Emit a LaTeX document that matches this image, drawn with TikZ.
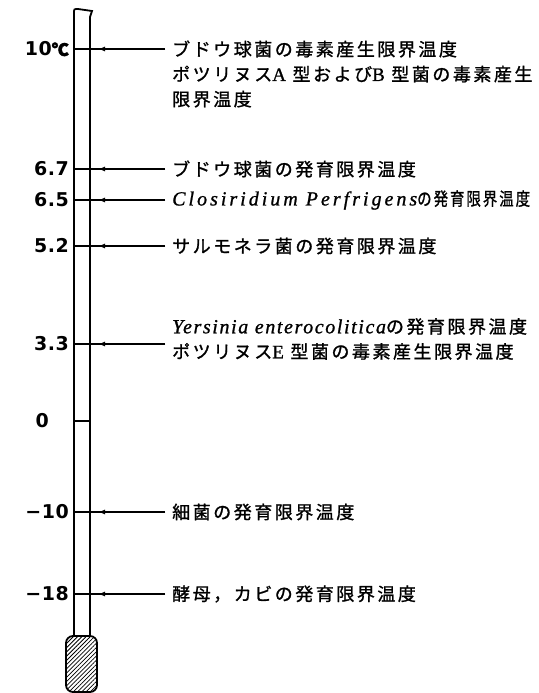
\documentclass[tikz,border=0pt]{standalone}
\usepackage{fontspec}
\usepackage{graphicx}
\usetikzlibrary{arrows.meta,patterns.meta}
\newfontfamily\jp[LetterSpace=14,FakeBold=1.2]{Noto Sans CJK JP}
\newfontfamily\jpb[FakeBold=2.5]{Noto Sans CJK JP}
\newfontfamily\lt[LetterSpace=8,FakeBold=1]{Liberation Serif}
\newfontfamily\ltw[LetterSpace=15,FakeBold=1]{Liberation Serif}
\newfontfamily\lab[LetterSpace=3]{DejaVu Sans}
\newcommand{\spn}[1]{{\fontsize{20}{25}\lt\itshape #1}}
\newcommand{\spw}[1]{{\fontsize{20}{25}\ltw\itshape #1}}
\newcommand{\lta}[1]{{\fontsize{19}{25}\lt #1}}
\begin{document}
\begin{tikzpicture}[x=1pt,y=-1pt,
  txt/.style={anchor=west,inner sep=0pt,font=\fontsize{18}{25}\jp,align=left},
  lbl/.style={anchor=east,inner sep=0pt,font=\fontsize{19}{20}\lab\bfseries},
  tickline/.style={line width=1.3pt},
  conn/.style={line width=1.3pt,-{Latex[length=7pt,width=5pt]},shorten >=8pt},
  tube/.style={line width=1.8pt}]
\useasboundingbox (0,0) rectangle (538,693);
% tube
\draw[tube] (74,636) -- (74,13) .. controls (74,9) .. (78,9) -- (92,11) -- (90,17) -- (90,636);
% bulb
\draw[line width=1.8pt,rounded corners=7pt,pattern={Lines[angle=45,distance=3pt,line width=0.8pt]}] (66,636) rectangle (97,692);
% levels
\foreach \n/\y in {a/49,b/169,c/200,d/246,e/344,f/421,g/512,h/594}{
  \coordinate (l\n) at (74,\y);
  \coordinate (r\n) at (90,\y);
  \draw[tickline] (l\n) -- (r\n);
}
% labels
\node[lbl] (La) at (69,49) {10{\fontsize{17}{20}\jpb ℃}};
\node[lbl] (Lb) at (69,169) {6.7};
\node[lbl] (Lc) at (69,200) {6.5};
\node[lbl] (Ld) at (69,246) {5.2};
\node[lbl] (Le) at (69,344) {3.3};
\node[lbl] (Lf) at (49,421) {0};
\node[lbl] (Lg) at (69,512) {−10};
\node[lbl] (Lh) at (69,594) {−18};
% texts
\node[txt] (ta) at (172,74) {ブドウ球菌の毒素産生限界温度\\ポツリヌス\lta{A} 型および\lta{B} 型菌の毒素産生\\限界温度};
\node[txt] (tb) at (172,169) {ブドウ球菌の発育限界温度};
\node[txt] (tc) at (172,200) {\spw{Closiridium Perfrigens}\scalebox{0.8}[1]{の発育限界温度}};
\node[txt] (td) at (172,246) {サルモネラ菌の発育限界温度};
\node[txt] (te) at (172,339) {\spn{Yersinia enterocolitica}の発育限界温度\\ポツリヌス\lta{E} 型菌の毒素産生限界温度};
\node[txt] (tg) at (172,512) {細菌の発育限界温度};
\node[txt] (th) at (172,594) {酵母，カビの発育限界温度};
% connectors
\foreach \n in {a,b,c,d,e,g,h}{
  \coordinate (s\n) at ([xshift=-7pt]t\n.west |- r\n);
  \draw[tickline] (s\n) -- (r\n);
  \draw[conn] (s\n) -- (r\n);
}
\end{tikzpicture}
\end{document}
